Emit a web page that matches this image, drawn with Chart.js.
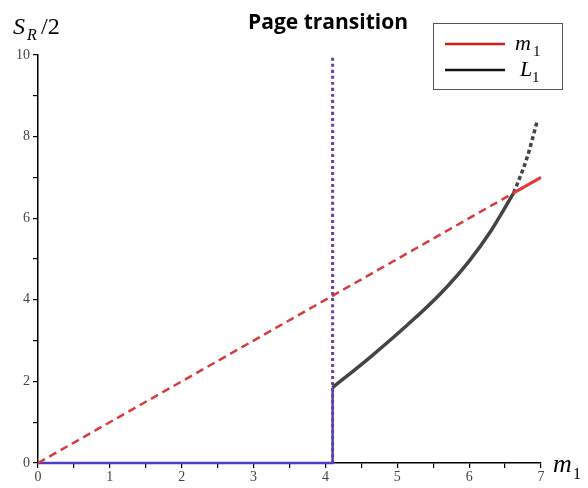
<!DOCTYPE html>
<html>
<head>
<meta charset="utf-8">
<script src="https://cdn.jsdelivr.net/npm/chart.js@4/dist/chart.umd.min.js"></script>
<style>
  html, body { margin: 0; padding: 0; background: #fff; }
  #wrap { width: 588px; height: 488px; position: relative; }
</style>
</head>
<body>
<div id="wrap"><canvas id="mainChart"></canvas></div>
<script>
// dados
const xTickValues = [0, 1, 2, 3, 4, 5, 6, 7];
const yTickValues = [0, 2, 4, 6, 8, 10];

const m1DashedX = [0, 6.62];
const m1DashedY = [0, 6.62];
const m1SolidX = [6.62, 7];
const m1SolidY = [6.62, 7];

const l1SolidX = [4.1, 4.6, 5.1, 5.6, 6.0, 6.3, 6.62];
const l1SolidY = [1.85, 2.56, 3.32, 4.15, 4.95, 5.68, 6.62];
const l1DashedX = [6.62, 6.8, 6.95];
const l1DashedY = [6.62, 7.45, 8.4];

const transitionX = [4.1, 4.1];
const transitionY = [0, 10];
const baseX = [0, 4.1, 4.1];
const baseY = [0, 0, 1.85];

const toPts = (xs, ys) => xs.map((x, i) => ({ x: x, y: ys[i] }));

function lineSet(xs, ys, color, width, dash) {
    return {
        data: toPts(xs, ys),
        borderColor: color,
        backgroundColor: color,
        borderWidth: width,
        borderDash: dash || [],
        pointRadius: 0,
        showLine: true,
        fill: false,
        clip: false,
        cubicInterpolationMode: 'monotone'
    };
}

// textos extras: título, legenda e rótulos dos eixos
const annotations = {
    id: 'annotations',
    afterDraw(chart) {
        const c = chart.ctx;
        c.save();
        c.fillStyle = '#000';
        c.font = 'bold 21px "Open Sans", sans-serif';
        c.textAlign = 'center';
        c.textBaseline = 'middle';
        c.fillText('Page transition', 328, 23);

        // rótulo do eixo y
        c.textAlign = 'left';
        c.textBaseline = 'alphabetic';
        c.font = 'italic 24px "Liberation Serif", serif';
        c.fillText('S', 13, 34);
        c.font = 'italic 16px "Liberation Serif", serif';
        c.fillText('R', 27, 40);
        c.font = '24px "Liberation Serif", serif';
        c.fillText('/2', 41, 34);

        // rótulo do eixo x
        c.font = 'italic 26px "Liberation Serif", serif';
        c.fillText('m', 553, 472);
        c.font = '16px "Liberation Serif", serif';
        c.fillText('1', 573, 479);

        // legenda
        c.strokeStyle = '#555';
        c.lineWidth = 1;
        c.strokeRect(433.5, 23.5, 129, 66);
        c.lineWidth = 2.5;
        c.strokeStyle = '#cc1f1f';
        c.beginPath(); c.moveTo(445, 44); c.lineTo(505, 44); c.stroke();
        c.strokeStyle = '#111';
        c.beginPath(); c.moveTo(445, 70); c.lineTo(505, 70); c.stroke();
        c.font = 'italic 22px "Liberation Serif", serif';
        c.fillText('m', 515, 50);
        c.fillText('L', 520, 76);
        c.font = '15px "Liberation Serif", serif';
        c.fillText('1', 533, 56);
        c.fillText('1', 532, 82);
        c.restore();
    }
};

const tickFont = { family: '"Liberation Serif", serif', size: 14 };

new Chart(document.getElementById('mainChart'), {
    type: 'scatter',
    data: {
        datasets: [
            lineSet(m1DashedX, m1DashedY, '#d93a3a', 2.5, [8, 5]),
            lineSet(m1SolidX, m1SolidY, '#e03a3a', 3),
            lineSet(l1SolidX, l1SolidY, '#444444', 3.5),
            lineSet(l1DashedX, l1DashedY, '#444444', 3.5, [4, 3]),
            lineSet(transitionX, transitionY, '#6a3fa8', 3, [3, 3]),
            lineSet(baseX, baseY, '#4b3fc4', 2.5)
        ]
    },
    options: {
        responsive: true,
        maintainAspectRatio: false,
        animation: false,
        layout: { padding: { left: 0, top: 55, right: 47, bottom: 0 } },
        plugins: {
            legend: { display: false },
            tooltip: { enabled: false }
        },
        scales: {
            x: {
                type: 'linear',
                min: 0,
                max: 7,
                afterFit: s => { s.height = 25; },
                afterBuildTicks: s => {
                    const t = [];
                    for (let v = 0; v <= 7; v += 0.5) t.push({ value: v });
                    s.ticks = t;
                },
                ticks: {
                    autoSkip: false,
                    maxRotation: 0,
                    padding: 1,
                    color: '#444',
                    font: tickFont,
                    callback: v => xTickValues.includes(v) ? String(v) : ''
                },
                grid: { drawOnChartArea: false, drawTicks: true, tickLength: 5, color: '#000', lineWidth: 1.2 },
                border: { display: true, color: '#000', width: 1.5 }
            },
            y: {
                type: 'linear',
                min: 0,
                max: 10,
                afterFit: s => { s.width = 38; },
                afterBuildTicks: s => {
                    const t = [];
                    for (let v = 0; v <= 10; v += 1) t.push({ value: v });
                    s.ticks = t;
                },
                ticks: {
                    autoSkip: false,
                    padding: 3,
                    color: '#444',
                    font: tickFont,
                    callback: v => yTickValues.includes(v) ? String(v) : ''
                },
                grid: { drawOnChartArea: false, drawTicks: true, tickLength: 5, color: '#000', lineWidth: 1.2 },
                border: { display: true, color: '#000', width: 1.5 }
            }
        }
    },
    plugins: [annotations]
});
</script>
</body>
</html>
